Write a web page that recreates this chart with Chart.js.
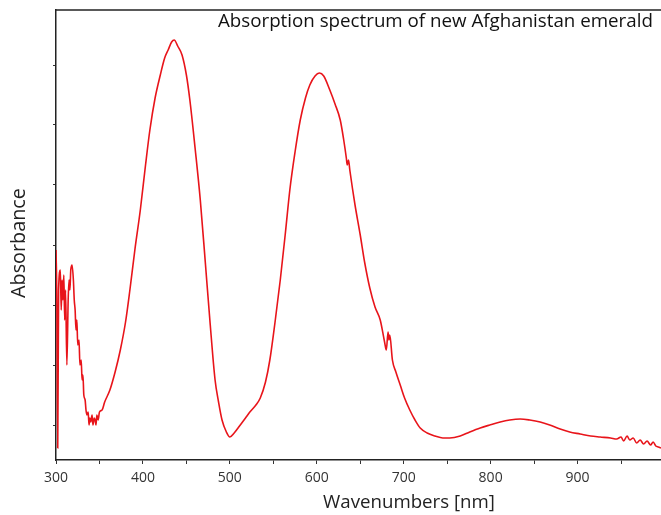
<!DOCTYPE html>
<html><head><meta charset="utf-8">
<script src="https://cdn.jsdelivr.net/npm/chart.js@4/dist/chart.umd.min.js"></script>
<style>html,body{margin:0;padding:0;background:#fff}#wrap{width:661px;height:515px}</style>
</head><body><div id="wrap"><canvas id="c" width="661" height="515"></canvas></div>
<script>
const wavelengthsNm = [300,301,302,303,305,306,307,308,309,310,311,312.5,314,315,316,317,318.5,320,321,322,323,324,325,326.5,327.5,329,330,331,332,333.5,334.5,335.5,337,338,339,340,341.5,342.5,344,345,346,347,348.5,350,353,356,362,368,374,380,385,391,397,403,408,414,420,425,429,433,436,440,445,450,454,460,466,472,477,483,487,491,496,500,505,512,518,523,530,535,541,546,552,558,564,569,575,581,587,592,598,603,608,615,621,627,631,634,635,636.5,638,644,650,655,661,667,673,678,680,682,683,684,687,691,696,701,707,713,719,727,736,745,753,765,776,788,799,811,822,834,845,857,868,880,891,903,915,926,938,945,950,953,957,960,964,968,972,976,980,984,987,990,993,996];
const absorbance = [2.10,1.60,0.12,1.70,1.90,1.50,1.80,1.60,1.85,1.40,1.70,0.95,1.60,1.80,1.70,1.90,1.95,1.80,1.60,1.50,1.30,1.40,1.15,1.20,0.95,1.00,0.80,0.85,0.65,0.60,0.50,0.45,0.48,0.35,0.42,0.38,0.45,0.35,0.42,0.40,0.35,0.45,0.40,0.48,0.50,0.58,0.70,0.88,1.10,1.38,1.70,2.12,2.50,2.95,3.30,3.62,3.85,4.02,4.10,4.18,4.20,4.14,4.05,3.85,3.60,3.12,2.60,1.95,1.40,0.80,0.58,0.40,0.28,0.23,0.27,0.35,0.42,0.48,0.55,0.62,0.78,1.00,1.38,1.80,2.28,2.70,3.08,3.40,3.62,3.75,3.84,3.87,3.84,3.70,3.56,3.40,3.20,3.02,2.95,3.00,2.90,2.55,2.25,1.98,1.72,1.53,1.40,1.18,1.10,1.28,1.20,1.25,1.00,0.88,0.75,0.62,0.50,0.40,0.32,0.27,0.24,0.22,0.22,0.24,0.28,0.32,0.35,0.38,0.40,0.41,0.40,0.38,0.35,0.31,0.28,0.26,0.24,0.23,0.22,0.21,0.23,0.19,0.24,0.20,0.22,0.17,0.20,0.16,0.19,0.15,0.18,0.14,0.13,0.12];
const xTickLabels = [300,400,500,600,700,800,900];
const yTickValues = [0.35,0.95,1.55,2.15,2.75,3.35,3.95];
const chartTitle = 'Absorption spectrum of new Afghanistan emerald';
const xAxisTitle = 'Wavenumbers [nm]';
const yAxisTitle = 'Absorbance';

const FONT = '"Open Sans", "DejaVu Sans", sans-serif';
const points = wavelengthsNm.map((x, i) => ({x, y: absorbance[i]}));

function fitText(ctx, text, base, target) {
  ctx.font = base + 'px ' + FONT;
  const w = ctx.measureText(text).width;
  const s = base * target / w;
  ctx.font = s + 'px ' + FONT;
}

const framePlugin = {
  id: 'frame',
  afterDraw(chart) {
    const {ctx, chartArea: a} = chart;
    ctx.save();
    ctx.strokeStyle = '#222';
    ctx.lineWidth = 1.5;
    ctx.beginPath();
    ctx.moveTo(a.left - 0.75, a.top);
    ctx.lineTo(a.right, a.top);
    ctx.stroke();
    ctx.fillStyle = '#111';
    ctx.textBaseline = 'middle';
    // chart title inside plot
    fitText(ctx, chartTitle, 17, 435);
    ctx.textAlign = 'left';
    ctx.fillText(chartTitle, 218, 22);
    // x axis title (original plot extended beyond the cropped right edge)
    fitText(ctx, xAxisTitle, 19, 172);
    ctx.textAlign = 'center';
    ctx.fillStyle = '#222';
    ctx.fillText(xAxisTitle, 409, 503);
    // y axis title
    fitText(ctx, yAxisTitle, 19, 110);
    ctx.translate(19, 243);
    ctx.rotate(-Math.PI / 2);
    ctx.fillText(yAxisTitle, 0, 0);
    ctx.restore();
  }
};

new Chart(document.getElementById('c'), {
  type: 'line',
  data: { datasets: [{ data: points, borderColor: '#e8141a', borderWidth: 1.6, pointRadius: 0, cubicInterpolationMode: 'monotone', fill: false }] },
  options: {
    responsive: false,
    animation: false,
    layout: { padding: { left: 0, right: 0, top: 10, bottom: 0 } },
    plugins: { legend: { display: false }, tooltip: { enabled: false } },
    scales: {
      x: {
        type: 'linear', min: 300, max: 996,
        afterFit(s) { s.height = 55; },
        afterBuildTicks(s) { const t = []; for (let v = 300; v <= 996; v += 50) t.push({value: v}); s.ticks = t; },
        ticks: {
          autoSkip: false, maxRotation: 0, padding: 6,
          color: '#333', font: { family: FONT, size: 14 },
          callback: (v) => xTickLabels.includes(v) ? String(v) : ''
        },
        grid: { drawOnChartArea: false, drawTicks: true, tickLength: 4, color: '#333', lineWidth: 1 },
        border: { display: true, color: '#222', width: 1.5 },
        title: { display: false }
      },
      y: {
        type: 'linear', min: 0, max: 4.5,
        afterFit(s) { s.width = 56; },
        afterBuildTicks(s) { s.ticks = yTickValues.map(v => ({value: v})); },
        ticks: { display: false },
        grid: { drawOnChartArea: false, drawTicks: true, tickLength: 3, color: '#333', lineWidth: 1 },
        border: { display: true, color: '#222', width: 1.5 },
        title: { display: false }
      }
    }
  },
  plugins: [framePlugin]
});
</script>
</body></html>
